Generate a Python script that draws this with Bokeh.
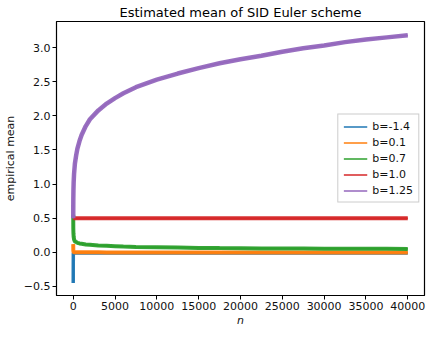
from bokeh.plotting import figure
from bokeh.models import FixedTicker, Legend, LegendItem, Range1d
from bokeh.embed import file_html
from bokeh.resources import INLINE

n = [0, 10, 25, 50, 100, 200, 350, 500, 750, 1000, 1500, 2000, 3000, 4000, 5000,
     6000, 7500, 10000, 12500, 15000, 17500, 20000, 22500, 25000, 27500, 30000,
     32500, 35000, 37500, 40000]

b_m14 = [-0.45, -0.02, -0.01, -0.01, -0.01, -0.008, -0.008, -0.008, -0.008, -0.008,
         -0.008, -0.008, -0.008, -0.008, -0.008, -0.008, -0.008, -0.008, -0.008, -0.008,
         -0.008, -0.008, -0.008, -0.008, -0.008, -0.008, -0.008, -0.008, -0.008, -0.008]
b_01 = [0.12, 0.03, 0.01, 0.005, 0.0, 0.0, 0.0, 0.0, 0.0, 0.0, 0.0, 0.0, 0.0, -0.002,
        -0.002, -0.002, -0.002, -0.003, -0.003, -0.003, -0.003, -0.003, -0.003, -0.003,
        -0.003, -0.003, -0.003, -0.003, -0.003, -0.003]
b_07 = [0.55, 0.35, 0.28, 0.23, 0.19, 0.16, 0.15, 0.14, 0.13, 0.125, 0.115, 0.11, 0.10,
        0.095, 0.09, 0.085, 0.08, 0.075, 0.07, 0.065, 0.062, 0.06, 0.058, 0.056, 0.055,
        0.054, 0.053, 0.052, 0.051, 0.05]
b_10 = [0.5] * 30
b_125 = [0.5, 0.78, 0.9, 1.02, 1.15, 1.30, 1.42, 1.52, 1.63, 1.72, 1.85, 1.95, 2.08,
         2.18, 2.26, 2.33, 2.42, 2.53, 2.62, 2.70, 2.77, 2.83, 2.88, 2.94, 2.99, 3.03,
         3.08, 3.12, 3.15, 3.18]

labels = ["b=-1.4", "b=0.1", "b=0.7", "b=1.0", "b=1.25"]
colors = ["#1f77b4", "#ff7f0e", "#2ca02c", "#d62728", "#9467bd"]
series = [b_m14, b_01, b_07, b_10, b_125]

y_ticks = [-0.5, 0.0, 0.5, 1.0, 1.5, 2.0, 2.5, 3.0]
x_ticks = [0, 5000, 10000, 15000, 20000, 25000, 30000, 35000, 40000]

FONT = "DejaVu Sans"

p = figure(frame_width=368, frame_height=274, output_backend="svg", toolbar_location=None,
           x_range=Range1d(-2000, 42000), y_range=Range1d(-0.6325, 3.3825),
           title="Estimated mean of SID Euler scheme",
           min_border_left=44, min_border_right=6, min_border_top=0, min_border_bottom=30)

p.title.align = "center"
p.title.text_font = FONT
p.title.text_font_size = "13px"
p.title.text_font_style = "normal"
p.title.text_color = "black"
p.title.standoff = 4

p.grid.visible = False
p.outline_line_color = "black"
p.outline_line_width = 1.2
p.outline_line_alpha = 1
p.background_fill_color = "white"
p.border_fill_color = "white"

widths = [3.5, 4, 4, 4, 4.5]
items = []
for ys, lab, col, w in zip(series, labels, colors, widths):
    thin = p.line(n, ys, line_color=col, line_width=1.6)
    p.line(n, ys, line_color=col, line_width=w, line_alpha=0.95)
    items.append(LegendItem(label=lab, renderers=[thin]))

for ax in (p.xaxis[0], p.yaxis[0]):
    ax.major_label_text_font = FONT
    ax.major_label_text_font_size = "11px"
    ax.major_label_text_color = "#111111"
    ax.axis_line_color = "black"
    ax.major_tick_line_color = "black"
    ax.major_tick_out = 4
    ax.major_tick_in = 0
    ax.major_label_standoff = 2
    ax.minor_tick_line_color = None
    ax.axis_label_text_font = FONT
    ax.axis_label_text_font_size = "11px"
    ax.axis_label_text_font_style = "normal"
    ax.axis_label_text_color = "#111111"

p.xaxis.ticker = FixedTicker(ticks=x_ticks)
p.yaxis.ticker = FixedTicker(ticks=y_ticks)
p.yaxis.major_label_overrides = {v: ("\u2212" if v < 0 else "") + f"{abs(v):.1f}" for v in y_ticks}
p.xaxis.major_label_overrides = {v: str(v) for v in x_ticks}
p.xaxis.axis_label = "n"
p.xaxis.axis_label_text_font_style = "italic"
p.xaxis.axis_label_standoff = 1
p.yaxis.axis_label = "empirical mean"
p.yaxis.axis_label_standoff = 4

legend = Legend(items=items, location="center_right")
legend.label_text_font = FONT
legend.label_text_font_size = "11px"
legend.label_text_color = "#111111"
legend.border_line_color = "#cccccc"
legend.border_line_alpha = 1
legend.background_fill_alpha = 0.85
legend.glyph_width = 24
legend.glyph_height = 12
legend.label_height = 12
legend.spacing = 3
legend.padding = 5
legend.margin = 5
p.add_layout(legend)

open("out.html", "w").write(file_html(p, INLINE))
